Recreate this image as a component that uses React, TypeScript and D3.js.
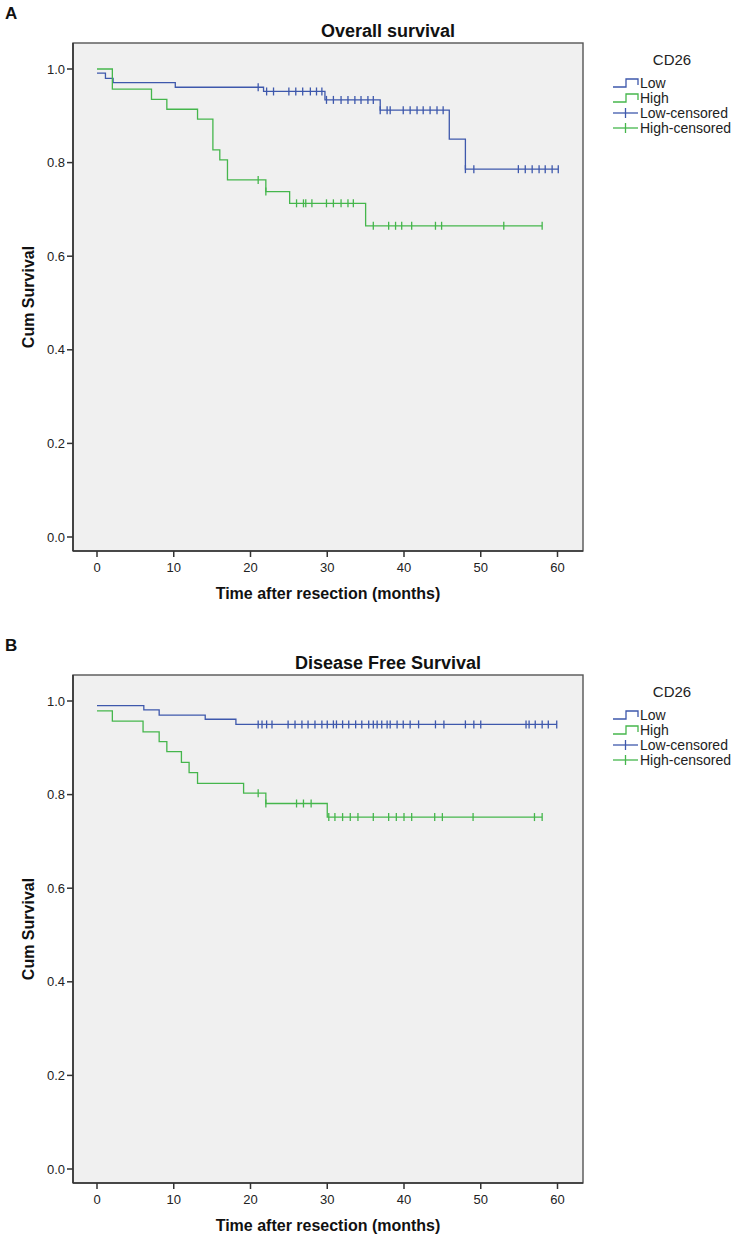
import React from 'react';
import * as d3 from 'd3';

// Overall survival (panel A)
const osLowTimes = [0, 1.1, 2.1, 10.2, 21.7, 29.7, 36.9, 45.9, 48.0];
const osLowSurv = [0.991, 0.980, 0.971, 0.961, 0.952, 0.934, 0.912, 0.850, 0.786];
const osLowEnd = 60.1;
const osLowCensor = [21.0, 22.1, 23.0, 25.0, 25.9, 26.8, 27.8, 28.6, 29.3, 29.9, 30.8, 31.8, 32.7, 33.6, 34.4, 35.3, 36.0,
  36.9, 37.8, 38.2, 39.9, 40.8, 41.7, 42.5, 43.4, 44.3, 45.1, 48.0, 49.1, 54.9, 55.8, 56.7, 57.6, 58.4, 59.3, 60.1];

const osHighTimes = [0, 2.0, 7.1, 9.1, 13.1, 15.1, 16.0, 17.0, 22.0, 25.1, 35.0];
const osHighSurv = [1.0, 0.957, 0.935, 0.914, 0.893, 0.827, 0.806, 0.763, 0.738, 0.713, 0.665];
const osHighEnd = 58.0;
const osHighCensor = [21.0, 22.0, 26.0, 26.9, 27.2, 28.0, 29.9, 30.8, 31.8, 32.7, 33.4, 36.0, 38.0, 38.9, 39.7, 41.0,
  44.1, 44.9, 53.0, 58.0];

// Disease free survival (panel B)
const dfsLowTimes = [0, 6.1, 8.1, 14.1, 18.1];
const dfsLowSurv = [0.990, 0.981, 0.970, 0.961, 0.950];
const dfsLowEnd = 59.9;
const dfsLowCensor = [21.0, 21.5, 22.1, 22.8, 24.9, 25.8, 26.7, 27.5, 28.4, 29.3, 30.0, 30.8, 31.2, 32.0, 32.8, 33.7,
  34.5, 35.4, 36.0, 36.5, 37.1, 37.8, 38.2, 39.1, 39.9, 40.8, 41.9, 44.1, 45.2, 48.0, 49.1, 50.0, 55.9, 56.3, 57.1,
  58.0, 58.8, 59.9];

const dfsHighTimes = [0, 2.0, 6.0, 8.1, 9.1, 11.0, 12.0, 13.1, 19.1, 22.0, 30.0];
const dfsHighSurv = [0.979, 0.957, 0.934, 0.913, 0.892, 0.869, 0.847, 0.824, 0.803, 0.781, 0.752];
const dfsHighEnd = 58.0;
const dfsHighCensor = [21.0, 22.0, 26.0, 26.9, 27.9, 30.2, 31.0, 32.0, 33.0, 34.0, 36.0, 38.0, 39.0, 40.0, 41.0,
  44.0, 45.0, 49.0, 57.0, 58.0];

const xTicks = [0, 10, 20, 30, 40, 50, 60];
const yTicks = [0, 0.2, 0.4, 0.6, 0.8, 1.0];
const legendLabels = ['Low', 'High', 'Low-censored', 'High-censored'];

const BLUE = '#3e58ac';
const GREEN = '#45b64c';
const FONT = '"Liberation Sans", Arial, sans-serif';

const x = d3.scaleLinear().domain([0, 60]).range([97, 557.5]);
const y = d3.scaleLinear().domain([0, 1]).range([537, 69]);
const box = { left: 73, right: 583, top: 43, bottom: 551 };

const stepLine = d3.line<[number, number]>()
  .x(d => x(d[0]))
  .y(d => y(d[1]))
  .curve(d3.curveStepAfter);

function survAt(times: number[], surv: number[], t: number) {
  let s = surv[0];
  times.forEach((tt, i) => { if (tt <= t + 1e-6) s = surv[i]; });
  return s;
}

function Curve({ times, surv, end, censor, color }: any) {
  const pts: [number, number][] = times.map((t: number, i: number) => [t, surv[i]]);
  pts.push([end, surv[surv.length - 1]]);
  return (
    <g>
      <path d={stepLine(pts) || ''} fill="none" stroke={color} strokeWidth={1.3} />
      {censor.map((t: number, i: number) => {
        const cx = x(t);
        const cy = y(survAt(times, surv, t));
        return <line key={i} x1={cx} x2={cx} y1={cy - 4} y2={cy + 4} stroke={color} strokeWidth={1.3} />;
      })}
    </g>
  );
}

function Panel({ dy, letter, title, low, high }: any) {
  return (
    <g transform={`translate(0,${dy})`} fontFamily={FONT}>
      <text x={5} y={19} fontSize={17} fontWeight="bold" fill="#111">{letter}</text>
      <rect x={box.left} y={box.top} width={box.right - box.left} height={box.bottom - box.top}
        fill="#f0f0f0" stroke="#555" strokeWidth={1.4} />
      <text x={388} y={37} textAnchor="middle" fontSize={18} fontWeight="bold" fill="#111">{title}</text>
      <Curve {...low} color={BLUE} />
      <Curve {...high} color={GREEN} />
      <line x1={box.left} x2={box.left} y1={box.top} y2={box.bottom} stroke="#333" strokeWidth={1.6} />
      <line x1={box.left} x2={box.right} y1={box.bottom} y2={box.bottom} stroke="#333" strokeWidth={1.6} />
      {yTicks.map(v => (
        <g key={v}>
          <line x1={box.left - 6} x2={box.left} y1={y(v)} y2={y(v)} stroke="#333" strokeWidth={1.5} />
          <text x={box.left - 8} y={y(v) + 4.5} textAnchor="end" fontSize={13} fill="#222">{v.toFixed(1)}</text>
        </g>
      ))}
      {xTicks.map(v => (
        <g key={v}>
          <line x1={x(v)} x2={x(v)} y1={box.bottom} y2={box.bottom + 6} stroke="#333" strokeWidth={1.5} />
          <text x={x(v)} y={box.bottom + 21} textAnchor="middle" fontSize={13} fill="#222">{v}</text>
        </g>
      ))}
      <text x={(box.left + box.right) / 2} y={box.bottom + 48} textAnchor="middle" fontSize={16}
        fontWeight="bold" fill="#111">Time after resection (months)</text>
      <text transform={`translate(34,${(box.top + box.bottom) / 2}) rotate(-90)`} textAnchor="middle"
        fontSize={16} fontWeight="bold" fill="#111">Cum Survival</text>
      <text x={672} y={64.5} textAnchor="middle" fontSize={15} fill="#222">CD26</text>
      {legendLabels.map((lab, i) => {
        const cy = 83 + i * 15;
        const color = i % 2 === 0 ? BLUE : GREEN;
        return (
          <g key={lab}>
            {i < 2 ? (
              <path d={`M613,${cy + 4}H626V${cy - 4}H638V${cy + 2}`} fill="none" stroke={color} strokeWidth={1.3} />
            ) : (
              <g>
                <line x1={613} x2={638} y1={cy} y2={cy} stroke={color} strokeWidth={1.3} />
                <line x1={625.5} x2={625.5} y1={cy - 5} y2={cy + 5} stroke={color} strokeWidth={1.3} />
              </g>
            )}
            <text x={640} y={cy + 5} fontSize={14} fill="#222">{lab}</text>
          </g>
        );
      })}
    </g>
  );
}

export default function App() {
  return (
    <div style={{ position: 'absolute', left: 0, top: 0 }}>
      <svg width={735} height={1247} style={{ display: 'block', background: '#fff' }}>
        <Panel dy={0} letter="A" title="Overall survival"
          low={{ times: osLowTimes, surv: osLowSurv, end: osLowEnd, censor: osLowCensor }}
          high={{ times: osHighTimes, surv: osHighSurv, end: osHighEnd, censor: osHighCensor }} />
        <Panel dy={632} letter="B" title="Disease Free Survival"
          low={{ times: dfsLowTimes, surv: dfsLowSurv, end: dfsLowEnd, censor: dfsLowCensor }}
          high={{ times: dfsHighTimes, surv: dfsHighSurv, end: dfsHighEnd, censor: dfsHighCensor }} />
      </svg>
    </div>
  );
}
